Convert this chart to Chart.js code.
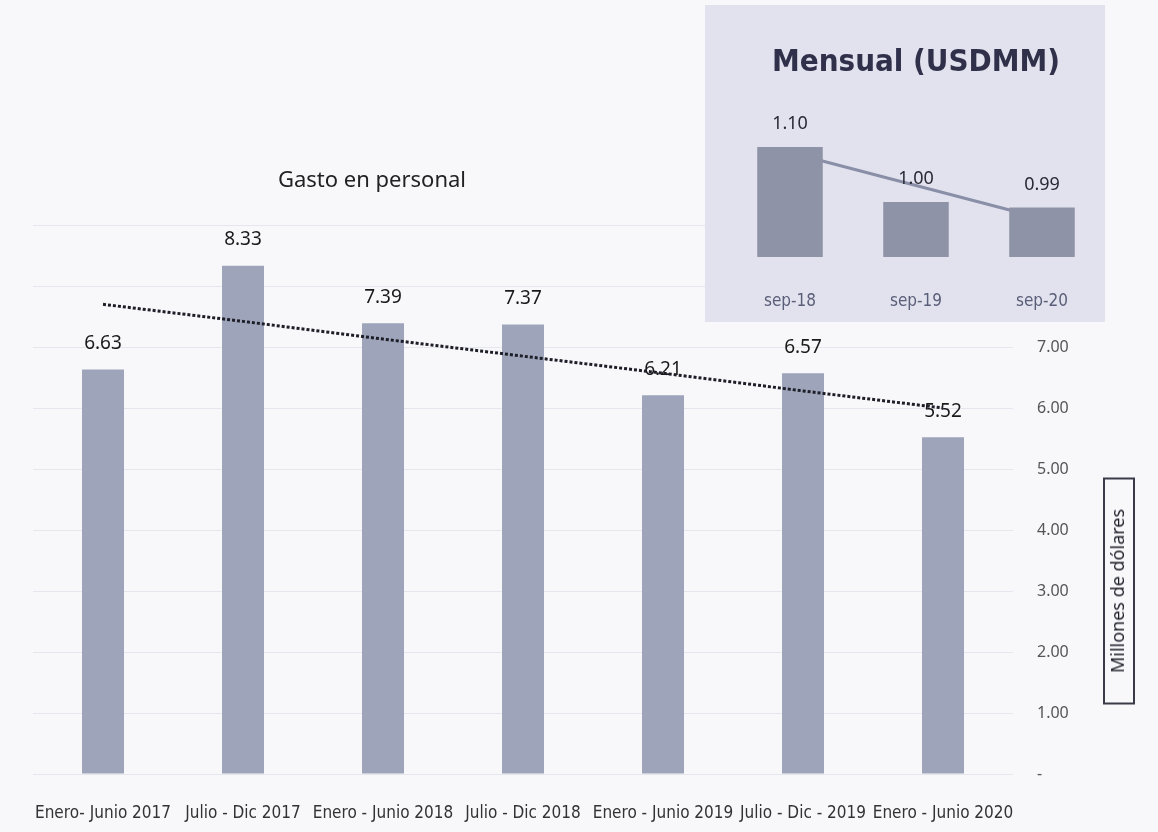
<!DOCTYPE html>
<html>
<head>
<meta charset="utf-8">
<script src="https://cdn.jsdelivr.net/npm/chart.js@4.4.0/dist/chart.umd.min.js"></script>
<style>
    body { margin: 0; background: #f8f8fb; }
    #wrap { position: relative; width: 1158px; height: 832px; overflow: hidden; }
    #main { position: absolute; left: 0; top: 0; }
    #inset { position: absolute; left: 705px; top: 5px; background: #e1e2ed; }
    .txt { position: absolute; white-space: nowrap; transform: translate(-50%, -50%); }
    #title { left: 372px; top: 178px; font: 22px 'Noto Sans', sans-serif; color: #222; }
    #insetTitle { left: 916px; top: 60px; font: bold 31px 'Liberation Sans Narrow', 'DejaVu Sans Condensed', sans-serif; color: #30304a; }
    #yTitle {
        left: 1119px; top: 591px; width: 227px; height: 32px; line-height: 30px;
        text-align: center; border: 2px solid #3a3a48; box-sizing: border-box;
        transform: translate(-50%, -50%) rotate(-90deg);
        font: 18px 'Noto Sans', sans-serif; color: #1e1e28;
    }
</style>
</head>
<body>
<div id="wrap">
    <canvas id="main" width="1158" height="832"></canvas>
    <canvas id="inset" width="400" height="317"></canvas>
    <div class="txt" id="title">Gasto en personal</div>
    <div class="txt" id="insetTitle">Mensual (USDMM)</div>
    <div class="txt" id="yTitle">Millones de dólares</div>
</div>
<script>
// main chart data
const periods = ['Enero- Junio 2017', 'Julio - Dic 2017', 'Enero - Junio 2018', 'Julio - Dic 2018',
    'Enero - Junio 2019', 'Julio - Dic - 2019', 'Enero - Junio 2020'];
const gasto = [6.63, 8.33, 7.39, 7.37, 6.21, 6.57, 5.52];
const gastoTrend = [7.70, 7.42, 7.13, 6.85, 6.57, 6.28, 6.00];

// inset data
const months = ['sep-18', 'sep-19', 'sep-20'];
const mensual = [1.10, 1.00, 0.99];
const mensualTrend = [1.09, 1.03, 0.97];

// writes the value over each bar of dataset 0
function barLabels(offset, font, color) {
    return {
        id: 'barLabels',
        afterDatasetDraw(chart, args) {
            if (args.index !== 0) return;
            const ctx = chart.ctx;
            const data = chart.data.datasets[0].data;
            ctx.save();
            ctx.font = font;
            ctx.fillStyle = color;
            ctx.textAlign = 'center';
            ctx.textBaseline = 'middle';
            args.meta.data.forEach((bar, i) => {
                ctx.fillText(data[i].toFixed(2), bar.x, bar.y - offset);
            });
            ctx.restore();
        }
    };
}

new Chart(document.getElementById('main'), {
    type: 'bar',
    data: {
        labels: periods,
        datasets: [
            {
                label: 'Gasto',
                data: gasto,
                backgroundColor: '#9ea5ba',
                barPercentage: 0.3,
                categoryPercentage: 1,
                order: 1,
            },
            {
                type: 'line',
                label: 'Tendencia',
                data: gastoTrend,
                borderColor: '#1e1e28',
                borderWidth: 3,
                borderDash: [3, 2],
                pointRadius: 0,
                fill: false,
                order: 0,
            },
        ],
    },
    options: {
        responsive: false,
        animation: false,
        layout: { padding: { left: 33, top: 225, right: 0, bottom: 0 } },
        plugins: { legend: { display: false }, tooltip: { enabled: false } },
        scales: {
            x: {
                grid: { display: false },
                border: { display: false },
                ticks: {
                    autoSkip: false,
                    maxRotation: 0,
                    padding: 21,
                    color: '#333',
                    font: { family: "'Liberation Sans Narrow', 'DejaVu Sans Condensed', sans-serif", size: 17 },
                },
                afterFit(scale) { scale.height = 58; },
            },
            y: {
                position: 'right',
                min: 0,
                max: 9,
                grid: { color: '#e6e6ee', drawTicks: false },
                border: { display: false },
                ticks: {
                    stepSize: 1,
                    padding: 24,
                    color: '#555',
                    font: { family: "'Noto Sans', sans-serif", size: 16 },
                    callback: (v) => (v === 0 ? '-' : v.toFixed(2)),
                },
                afterFit(scale) { scale.width = 145; },
            },
        },
    },
    plugins: [barLabels(26, "19px 'Noto Sans', sans-serif", '#1a1a1a')],
});

new Chart(document.getElementById('inset'), {
    type: 'bar',
    data: {
        labels: months,
        datasets: [
            {
                label: 'Mensual',
                data: mensual,
                backgroundColor: '#8f93a7',
                barPercentage: 0.52,
                categoryPercentage: 1,
                order: 1,
            },
            {
                type: 'line',
                label: 'Tendencia',
                data: mensualTrend,
                borderColor: '#8a8fa8',
                borderWidth: 3,
                pointRadius: 0,
                fill: false,
                order: 2,
            },
        ],
    },
    options: {
        responsive: false,
        animation: false,
        layout: { padding: { left: 22, top: 87, right: 0, bottom: 0 } },
        plugins: { legend: { display: false }, tooltip: { enabled: false } },
        scales: {
            x: {
                grid: { display: false },
                border: { display: false },
                ticks: {
                    padding: 26,
                    color: '#5a5e78',
                    font: { family: "'Liberation Sans Narrow', 'DejaVu Sans Condensed', sans-serif", size: 17 },
                },
                afterFit(scale) { scale.height = 65; },
            },
            y: { display: false, min: 0.9, max: 1.2 },
        },
    },
    plugins: [barLabels(23, "18px 'Noto Sans', sans-serif", '#2a2a35')],
});
</script>
</body>
</html>
